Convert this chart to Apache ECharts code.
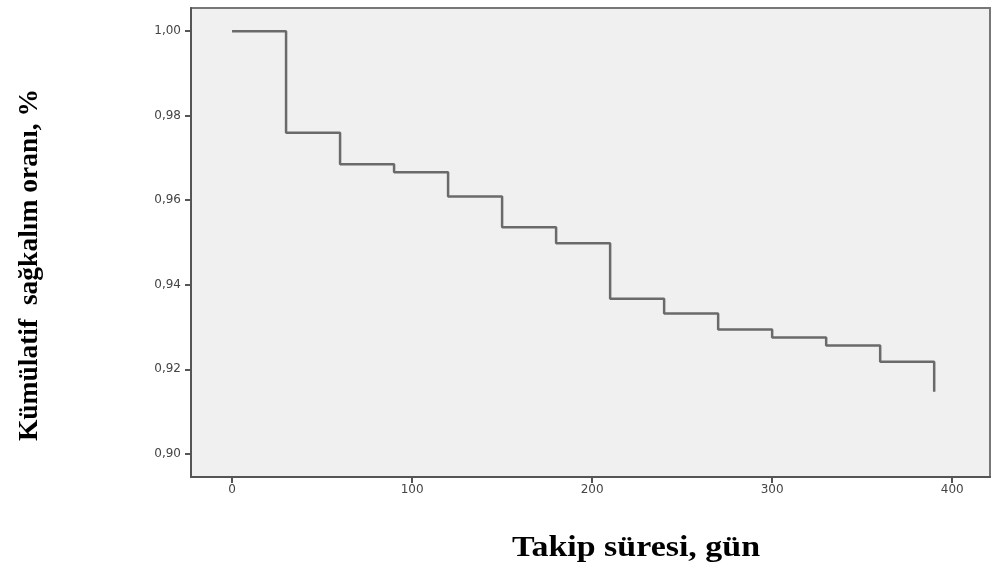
<!DOCTYPE html>
<html>
<head>
<meta charset="utf-8">
<script src="https://cdn.jsdelivr.net/npm/echarts@6/dist/echarts.min.js"></script>
<style>
    html, body { margin: 0; padding: 0; background: #fff; }
    #chart { width: 995px; height: 569px; }
</style>
</head>
<body>
<div id="chart"></div>
<script>
// follow-up time (days) and cumulative survival
const times = [0, 30, 60, 90, 120, 150, 180, 210, 240, 270, 300, 330, 360, 390];
const survival = [1.000, 0.976, 0.9685, 0.9666, 0.9609, 0.9536, 0.9498, 0.9367, 0.9332, 0.9294, 0.9275, 0.9256, 0.9218, 0.9147];
const xTicks = [0, 100, 200, 300, 400];
const yTicks = [0.90, 0.92, 0.94, 0.96, 0.98, 1.00];
const xTitle = "Takip süresi, gün";
const yTitle = "Kümülatif  sağkalım oranı, %";

const chart = echarts.init(document.getElementById("chart"));

const axisColor = "#555";
const labelStyle = {
    color: "#444",
    fontSize: 12,
    fontFamily: "DejaVu Sans"
};

chart.setOption({
    animation: false,
    grid: {
        left: 191,
        top: 8,
        width: 799,
        height: 469,
        show: true,
        backgroundColor: "#f0f0f0",
        borderColor: "#777",
        borderWidth: 2
    },
    xAxis: {
        type: "value",
        min: -22.8,
        max: 421,
        axisLine: { show: true, onZero: false, lineStyle: { color: axisColor, width: 2 } },
        axisTick: {
            show: true,
            customValues: xTicks,
            length: 6,
            lineStyle: { color: axisColor, width: 2 }
        },
        axisLabel: Object.assign({
            customValues: xTicks,
            margin: 7
        }, labelStyle),
        splitLine: { show: false }
    },
    yAxis: {
        type: "value",
        min: 0.8945,
        max: 1.0055,
        axisLine: { show: true, onZero: false, lineStyle: { color: axisColor, width: 2 } },
        axisTick: {
            show: true,
            customValues: yTicks,
            length: 6,
            lineStyle: { color: axisColor, width: 2 }
        },
        axisLabel: Object.assign({
            customValues: yTicks,
            margin: 10,
            formatter: function (v) {
                return v.toFixed(2).replace(".", ",");
            }
        }, labelStyle),
        splitLine: { show: false }
    },
    graphic: [
        {
            type: "text",
            x: 636,
            y: 549,
            scaleX: 1.17,
            style: {
                text: xTitle,
                fill: "#000",
                font: "bold 29px 'Liberation Serif'",
                align: "center",
                verticalAlign: "middle"
            }
        },
        {
            type: "text",
            x: 30,
            y: 265,
            rotation: Math.PI / 2,
            style: {
                text: yTitle,
                fill: "#000",
                font: "bold 27.5px 'Liberation Serif'",
                align: "center",
                verticalAlign: "middle"
            }
        }
    ],
    series: [{
        type: "line",
        step: "end",
        symbol: "none",
        data: times.map((t, i) => [t, survival[i]]),
        lineStyle: { color: "#6a6a6a", width: 2.5 }
    }]
});
</script>
</body>
</html>
